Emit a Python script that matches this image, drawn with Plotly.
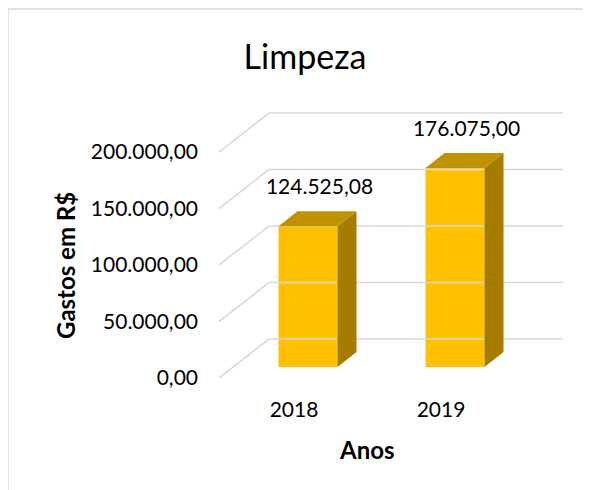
import plotly.graph_objects as go

# ---- data ----
categories = ["2018", "2019"]
values = [124525.08, 176075.00]
value_labels = ["124.525,08", "176.075,00"]
y_tick_vals = [0, 50000, 100000, 150000, 200000]
y_tick_text = ["0,00", "50.000,00", "100.000,00", "150.000,00", "200.000,00"]
title_text = "Limpeza"
x_title = "Anos"
y_title = "Gastos em R$"

# ---- geometry (pseudo-3D projection); pixel values are screen positions ----
OFF = 8                      # page body margin
W, H = 591 - OFF, 490 - OFF
L_PX, R_PX, T_PX, B_PX = 219, 563, 100, 395   # plot area (screen px)
ZERO_PX = 378                                  # screen row of value 0 on the front plane
PX_PER_CAT = 147.0
CAT0_PX = 294.0
K = 200000 / 226.0                             # value units per pixel

x_min = (L_PX - CAT0_PX) / PX_PER_CAT
x_max = (R_PX - CAT0_PX) / PX_PER_CAT
y_min = -(B_PX - ZERO_PX) * K
y_max = (ZERO_PX - T_PX) * K

def dxp(px):
    return px / PX_PER_CAT

def dyp(px):
    return px * K

WALL_DX, WALL_DY = dxp(50), dyp(39)     # depth of the back wall
BAR_FX, BAR_FY = dxp(14), dyp(11)       # bar front face offset from front plane
BAR_DX, BAR_DY = dxp(19), dyp(15)       # bar depth
BAR_W = dxp(59)

FRONT = "#FFC000"
TOP = "#C09200"
SIDE = "#A67C00"
GRID = "#D9D9D9"
FONT = "Lato"

fig = go.Figure()

# gridlines: front-left diagonal + back wall
for t in y_tick_vals:
    fig.add_trace(go.Scatter(
        x=[x_min, x_min + WALL_DX, x_max],
        y=[t, t + WALL_DY, t + WALL_DY],
        mode="lines", line=dict(color=GRID, width=1.6),
        hoverinfo="skip", showlegend=False))

# bars (front faces)
xs = [i + BAR_FX for i in range(len(categories))]
fig.add_trace(go.Bar(
    x=xs, y=values, base=[BAR_FY] * len(values), width=BAR_W,
    marker=dict(color=FRONT, line=dict(width=0)),
    hoverinfo="skip", showlegend=False))

for xc, v in zip(xs, values):
    xl, xr = xc - BAR_W / 2, xc + BAR_W / 2
    y0, y1 = BAR_FY, v + BAR_FY
    # side face
    fig.add_trace(go.Scatter(
        x=[xr, xr + BAR_DX, xr + BAR_DX, xr, xr],
        y=[y0, y0 + BAR_DY, y1 + BAR_DY, y1, y0],
        fill="toself", fillcolor=SIDE, mode="lines", line=dict(width=0, color=SIDE),
        hoverinfo="skip", showlegend=False))
    # top face
    fig.add_trace(go.Scatter(
        x=[xl, xl + BAR_DX, xr + BAR_DX, xr, xl],
        y=[y1, y1 + BAR_DY, y1 + BAR_DY, y1, y1],
        fill="toself", fillcolor=TOP, mode="lines", line=dict(width=0, color=TOP),
        hoverinfo="skip", showlegend=False))

# data labels
fig.add_trace(go.Scatter(
    x=[x + BAR_DX / 2 + dxp(2) for x in xs],
    y=[v + BAR_FY + BAR_DY + dyp(22.5) for v in values],
    mode="text", text=value_labels, textposition="middle center",
    textfont=dict(family=FONT, size=21, color="#000000"),
    hoverinfo="skip", showlegend=False))

def paper_x(px):
    return (px - L_PX) / (R_PX - L_PX)

def paper_y(py):
    return (B_PX - py) / (B_PX - T_PX)

# chart-area border (top and left edges visible)
fig.add_shape(type="line", xref="paper", yref="paper",
              x0=paper_x(8), y0=paper_y(500), x1=paper_x(8), y1=paper_y(9),
              line=dict(color=GRID, width=1.5))
fig.add_shape(type="line", xref="paper", yref="paper",
              x0=paper_x(8), y0=paper_y(9), x1=paper_x(600), y1=paper_y(9),
              line=dict(color=GRID, width=1.5))

# axis titles
fig.add_annotation(text=f"<b>{y_title}</b>", xref="paper", yref="paper",
                   x=paper_x(65), y=paper_y(266), textangle=-90, showarrow=False,
                   xanchor="center", yanchor="middle",
                   font=dict(family=FONT, size=24, color="#000000"))
fig.add_annotation(text=f"<b>{x_title}</b>", xref="paper", yref="paper",
                   x=paper_x(366.5), y=paper_y(449), showarrow=False,
                   xanchor="center", yanchor="middle",
                   font=dict(family=FONT, size=24, color="#000000"))

fig.update_layout(
    width=W, height=H,
    margin=dict(l=L_PX - OFF, r=(591 - R_PX), t=T_PX - OFF, b=490 - B_PX,
                autoexpand=False),
    paper_bgcolor="white", plot_bgcolor="rgba(0,0,0,0)",
    title=dict(text=title_text, x=(305 - OFF) / W, xanchor="center",
               y=1 - (57 - OFF) / H, yanchor="middle", yref="container",
               font=dict(family=FONT, size=34, color="#000000")),
    showlegend=False,
    xaxis=dict(range=[x_min, x_max], tickvals=list(range(len(categories))),
               ticktext=categories, showgrid=False, zeroline=False, showline=False,
               ticks="", automargin=False, fixedrange=True,
               tickfont=dict(family=FONT, size=21, color="#000000")),
    yaxis=dict(range=[y_min, y_max], tickvals=y_tick_vals, ticktext=y_tick_text,
               showgrid=False, zeroline=False, showline=False, ticks="",
               ticklabelstandoff=20, automargin=False, fixedrange=True,
               tickfont=dict(family=FONT, size=21, color="#000000")),
)

fig.write_html("out.html")
